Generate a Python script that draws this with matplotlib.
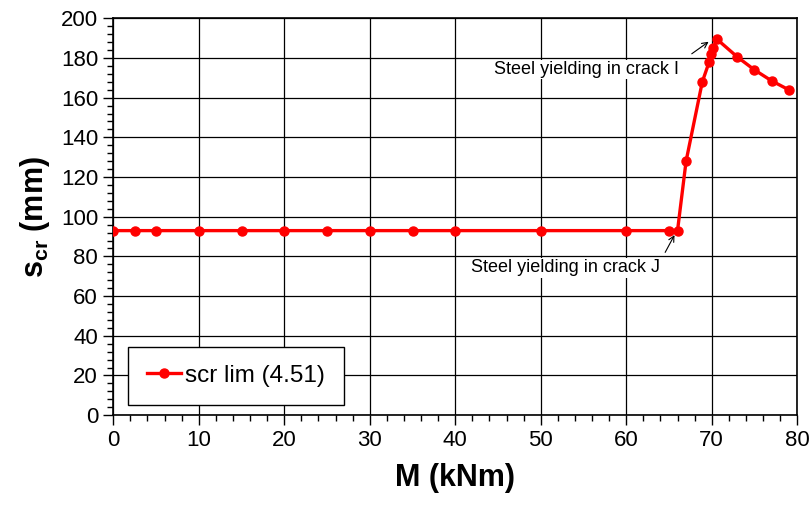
import numpy as np
import matplotlib.pyplot as plt

# crack spacing limit vs bending moment
M = [0, 2.5, 5, 10, 15, 20, 25, 30, 35, 40, 50, 60, 65, 66, 67, 68.9, 69.7, 69.9, 70.2, 70.6, 73, 75, 77, 79]
s_cr = [93, 93, 93, 93, 93, 93, 93, 93, 93, 93, 93, 93, 93, 93, 128, 168, 178, 182, 185, 189.5, 180.5, 174, 168.5, 164]

plt.rcParams['font.family'] = ['Liberation Sans', 'DejaVu Sans']
plt.rcParams['mathtext.fontset'] = 'custom'
plt.rcParams['mathtext.rm'] = 'Liberation Sans'
plt.rcParams['mathtext.bf'] = 'Liberation Sans:bold'

fig = plt.figure(figsize=(8.11, 5.17), dpi=100)
ax = fig.add_axes([0.1397, 0.197, 0.8433, 0.7676])

ax.plot(M, s_cr, color='#ff0000', lw=2.4, marker='o', ms=6.5, label='scr lim (4.51)', zorder=3)

ax.set_xlim(0, 80)
ax.set_ylim(0, 200)
ax.set_xticks(np.arange(0, 81, 10))
ax.set_yticks(np.arange(0, 201, 20))
ax.set_xticks(np.arange(0, 81, 2), minor=True)
ax.set_yticks(np.arange(0, 201, 4), minor=True)
ax.tick_params(which='major', direction='out', length=7, width=1, labelsize=16, pad=4)
ax.tick_params(which='minor', direction='out', length=4, width=1)
ax.grid(True, which='major', color='black', lw=0.9)
for sp in ax.spines.values():
    sp.set_linewidth(1.2)
    sp.set_color('black')

ax.set_xlabel('M (kNm)', fontsize=22, fontweight='bold', labelpad=8)
ax.set_ylabel(r'$\mathbf{s}_{\mathbf{cr}}$ (mm)', fontsize=22, fontweight='bold', labelpad=6)

# yielding annotations
ax.annotate('', xy=(65.8, 92), xytext=(64.4, 80.8),
            arrowprops=dict(arrowstyle='->', color='black', lw=0.8), zorder=4)
ax.text(52.9, 74.2, 'Steel yielding in crack J', fontsize=13, ha='center', va='center',
        bbox=dict(facecolor='white', edgecolor='none', pad=1), zorder=4)
ax.annotate('', xy=(69.9, 189), xytext=(67.4, 181.3),
            arrowprops=dict(arrowstyle='->', color='black', lw=0.8), zorder=4)
ax.text(55.4, 174.2, 'Steel yielding in crack I', fontsize=13, ha='center', va='center',
        bbox=dict(facecolor='white', edgecolor='none', pad=1), zorder=4)

leg = ax.legend(loc='lower left', bbox_to_anchor=(0.022, 0.025), borderaxespad=0,
                fontsize=17.5, frameon=True, fancybox=False, handlelength=1.4,
                borderpad=0.75, handletextpad=0.2)
leg.get_frame().set_edgecolor('black')
leg.get_frame().set_linewidth(1)
leg.get_frame().set_alpha(1)

fig.savefig('out.png', dpi=100)
